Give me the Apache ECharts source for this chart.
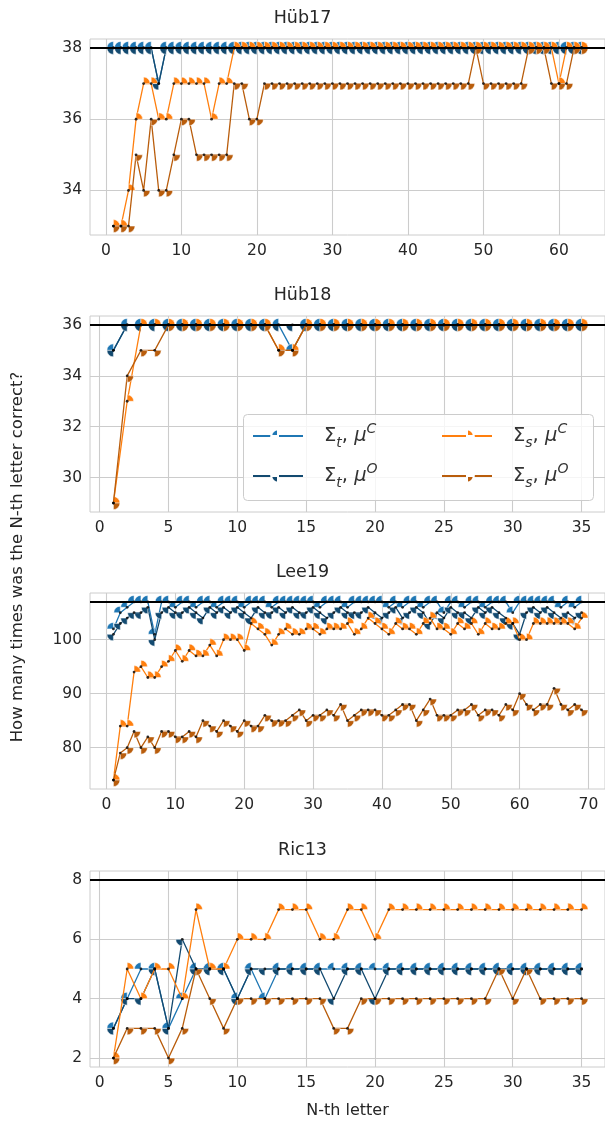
<!DOCTYPE html>
<html><head><meta charset="utf-8">
<script src="https://cdn.jsdelivr.net/npm/echarts@6/dist/echarts.min.js"></script>
<style>html,body{margin:0;padding:0;background:#fff}#c{width:605px;height:1125px}</style>
</head><body><div id="c"></div><script>
// ---------------- data ----------------
const hub17_tC = [38,38,38,38,38,38,37,38,38,38, 38,38,38,38,38,38,38,38,38,38, 38,38,38,38,38,38,38,38,38,38, 38,38,38,38,38,38,38,38,38,38, 38,38,38,38,38,38,38,38,38,38, 38,38,38,38,38,38,38,38,38,38, 38,38,38];
const hub17_tO = [38,38,38,38,38,38,37,38,38,38, 38,38,38,38,38,38,38,38,38,38, 38,38,38,38,38,38,38,38,38,38, 38,38,38,38,38,38,38,38,38,38, 38,38,38,38,38,38,38,38,38,38, 38,38,38,38,38,38,38,38,38,38, 38,38,38];
const hub17_sC = [33,33,34,36,37,37,36,36,37,37, 37,37,37,36,37,37,38,38,38,38, 38,38,38,38,38,38,38,38,38,38, 38,38,38,38,38,38,38,38,38,38, 38,38,38,38,38,38,38,38,38,38, 38,38,38,38,38,38,38,38,38,37, 38,38,38];
const hub17_sO = [33,33,33,35,34,36,34,34,35,36, 36,35,35,35,35,35,37,37,36,36, 37,37,37,37,37,37,37,37,37,37, 37,37,37,37,37,37,37,37,37,37, 37,37,37,37,37,37,37,37,38,37, 37,37,37,37,37,38,38,38,37,37, 37,38,38];

const hub18_tC = [35,36,36,36,36,36,36,36,36,36, 36,36,36,35,36,36,36,36,36,36, 36,36,36,36,36,36,36,36,36,36, 36,36,36,36,36];
const hub18_tO = [35,36,36,36,36,36,36,36,36,36, 36,36,36,36,36,36,36,36,36,36, 36,36,36,36,36,36,36,36,36,36, 36,36,36,36,36];
const hub18_sC = [29,33,36,36,36,36,36,36,36,36, 36,36,35,35,36,36,36,36,36,36, 36,36,36,36,36,36,36,36,36,36, 36,36,36,36,36];
const hub18_sO = [29,34,35,35,36,36,36,36,36,36, 36,36,35,35,36,36,36,36,36,36, 36,36,36,36,36,36,36,36,36,36, 36,36,36,36,36];

const lee19_tC = [102,105,106,107,107,107,101,107,107,106, 107,107,106,107,107,106,107,107,107,106, 107,107,107,106,107,107,107,107,107,107, 106,107,107,107,106,107,107,107,107,107, 106,107,106,107,107,106,107,107,105,107, 107,106,107,107,106,107,107,107,105,107, 107,107,107,107,107,106,107,106,107];
const lee19_tO = [101,103,104,105,105,106,100,105,106,105, 105,106,105,104,106,105,106,105,106,105, 104,106,105,105,106,105,106,105,105,106, 105,104,105,106,105,105,105,106,105,104, 105,106,104,105,106,105,103,105,104,106, 105,105,104,106,105,106,105,104,103,101, 105,106,105,106,105,104,105,104,105];
const lee19_sC = [74,84,84,94,95,93,93,95,96,98, 96,98,97,97,99,97,100,100,100,98, 103,102,101,99,101,102,101,101,102,102, 101,102,102,102,103,101,102,104,103,102, 101,103,102,102,101,103,104,102,102,101, 103,102,103,101,103,102,102,103,103,100, 100,103,103,103,103,103,103,102,104];
const lee19_sO = [74,79,80,83,80,82,80,83,83,82, 82,83,82,85,84,83,85,84,83,85, 84,84,86,85,85,85,86,87,85,86, 86,87,86,88,85,86,87,87,87,86, 86,87,88,88,85,87,89,86,86,86, 87,87,88,86,87,87,86,88,87,90, 88,87,88,88,91,88,87,88,87];

const ric13_tC = [3,4,5,5,3,4,5,5,5,4, 5,4,5,5,5,5,5,5,5,5, 5,5,5,5,5,5,5,5,5,5, 5,5,5,5,5];
const ric13_tO = [3,4,4,5,3,6,5,5,5,4, 5,5,5,5,5,5,4,5,5,4, 5,5,5,5,5,5,5,5,5,5, 5,5,5,5,5];
const ric13_sC = [2,5,4,5,5,4,7,5,5,6, 6,6,7,7,7,6,6,7,7,6, 7,7,7,7,7,7,7,7,7,7, 7,7,7,7,7];
const ric13_sO = [2,3,3,3,2,3,5,4,3,4, 4,4,4,4,4,4,3,3,4,4, 4,4,4,4,4,4,4,4,5,4, 5,4,4,4,4];

const titles = ['Hüb17', 'Hüb18', 'Lee19', 'Ric13'];
const refValues = [38, 36, 107, 8];
const hub17_xticks = [0,10,20,30,40,50,60];
const hub18_xticks = [0,5,10,15,20,25,30,35];
const lee19_xticks = [0,10,20,30,40,50,60,70];
const ric13_xticks = [0,5,10,15,20,25,30,35];
const hub17_yticks = [34,36,38];
const hub18_yticks = [30,32,34,36];
const lee19_yticks = [80,90,100];
const ric13_yticks = [2,4,6,8];
const seriesKeys = ['tC','tO','sC','sO'];

// ---------------- layout / style ----------------
const FONT = 'DejaVu Sans';
const TXT = '#262626';
const GRIDC = '#cccccc';
const COLORS = {tC:'#1f77b4', tO:'#134a70', sC:'#ff7f0e', sO:'#b95d0c'};
const SYM = {
  tC:'path://M0,0M20,20M10,10L0,10A10,10,0,0,1,10,0Z',
  tO:'path://M0,0M20,20M10,10L10,20A10,10,0,0,1,0,10Z',
  sC:'path://M0,0M20,20M10,10L10,0A10,10,0,0,1,20,10Z',
  sO:'path://M0,0M20,20M10,10L20,10A10,10,0,0,1,10,20Z'
};
const panelData = [
  [hub17_tC, hub17_tO, hub17_sC, hub17_sO],
  [hub18_tC, hub18_tO, hub18_sC, hub18_sO],
  [lee19_tC, lee19_tO, lee19_sC, lee19_sO],
  [ric13_tC, ric13_tO, ric13_sC, ric13_sO]
];
const xticks = [hub17_xticks, hub18_xticks, lee19_xticks, ric13_xticks];
const yticks = [hub17_yticks, hub18_yticks, lee19_yticks, ric13_yticks];
const tops = [39, 316, 593, 871];
const H = 196, LEFT = 90, W = 515;
const xLim = [[-2.1,66.1],[-0.7,36.7],[-2.4,72.4],[-0.7,36.7]];
const yLim = [[32.75,38.25],[28.65,36.35],[72.35,108.65],[1.7,8.3]];

const grids = [], xAxes = [], yAxes = [], series = [], titleOpts = [];
for (let p = 0; p < 4; p++) {
  grids.push({left: LEFT, top: tops[p], width: W, height: H, show: true,
    borderColor: GRIDC, borderWidth: 1, backgroundColor: 'transparent', containLabel: false});
  xAxes.push({type:'value', gridIndex:p, min:xLim[p][0], max:xLim[p][1],
    axisLine:{show:false}, axisTick:{show:false, customValues: xticks[p]},
    axisLabel:{customValues: xticks[p], color:TXT, fontSize:15.5, fontFamily:FONT, margin:8},
    splitLine:{show:true, lineStyle:{color:GRIDC, width:1.1}}});
  yAxes.push({type:'value', gridIndex:p, min:yLim[p][0], max:yLim[p][1],
    axisLine:{show:false}, axisTick:{show:false, customValues: yticks[p]},
    axisLabel:{customValues: yticks[p], color:TXT, fontSize:15.5, fontFamily:FONT, margin:8},
    splitLine:{show:true, lineStyle:{color:GRIDC, width:1.1}}});
  titleOpts.push({text: titles[p], left: 302.5, top: tops[p] - 21, padding: 0,
    textAlign:'center', textVerticalAlign:'middle',
    textStyle:{fontFamily:FONT, fontSize:17.5, fontWeight:'normal', color:TXT}});
  // reference line
  series.push({type:'line', name:'ref'+p, xAxisIndex:p, yAxisIndex:p, data:[], z:2, silent:true,
    markLine:{silent:true, symbol:['none','none'], label:{show:false},
      lineStyle:{color:'#000', width:2, type:'solid'}, data:[{yAxis: refValues[p]}], animation:false}});
  const dots = [];
  seriesKeys.forEach((k, i) => {
    const arr = panelData[p][i];
    const pts = arr.map((v, j) => [j + 1, v]);
    pts.forEach(pt => dots.push(pt));
    series.push({type:'line', name:k, xAxisIndex:p, yAxisIndex:p, data:pts,
      symbol: SYM[k], symbolSize: 13, showSymbol:true, showAllSymbol:true, z:3 + i*0.01,
      lineStyle:{color:COLORS[k], width:1.3},
      itemStyle:{color:COLORS[k], borderColor:'#ffffff', borderWidth:0.5},
      emphasis:{disabled:true}, animation:false});
  });
  series.push({type:'scatter', name:'dots'+p, xAxisIndex:p, yAxisIndex:p, data:dots,
    symbol:'circle', symbolSize:2.8, itemStyle:{color:'#000'}, z:4, silent:true, animation:false});
}

const LEG = {
  tC:'{sp| }{r|Σ}{sub|t}{r|, }{i|μ}{sup|C}',
  tO:'{sp| }{r|Σ}{sub|t}{r|, }{i|μ}{sup|O}',
  sC:'{sp| }{r|Σ}{sub|s}{r|, }{i|μ}{sup|C}',
  sO:'{sp| }{r|Σ}{sub|s}{r|, }{i|μ}{sup|O}'
};
const richLeg = {
  sp:{width:16, fontSize:16, lineHeight:28},
  r:{fontFamily:FONT, fontSize:19.5, color:'#333', lineHeight:28, verticalAlign:'middle'},
  i:{fontFamily:FONT, fontStyle:'italic', fontSize:19.5, color:'#333', lineHeight:28},
  sub:{fontFamily:FONT, fontStyle:'italic', fontSize:14, color:'#333', lineHeight:17, verticalAlign:'bottom'},
  sup:{fontFamily:FONT, fontStyle:'italic', fontSize:14, color:'#333', lineHeight:17, verticalAlign:'top'}
};
function legendCol(names, left) {
  return {data:names, orient:'vertical', left:left, top:422, itemWidth:50, itemHeight:17, itemGap:12,
    padding:0, z:10, selectedMode:false, formatter: n => LEG[n],
    textStyle:{rich: richLeg}};
}

const option = {
  animation:false,
  backgroundColor:'#ffffff',
  title: titleOpts,
  grid: grids, xAxis: xAxes, yAxis: yAxes, series: series,
  legend: [legendCol(['tC','tO'], 252), legendCol(['sC','sO'], 441)],
  graphic: [
    {type:'rect', z:9, shape:{x:243.5, y:414.5, width:350, height:86, r:4},
      style:{fill:'rgba(255,255,255,0.8)', stroke:'#cccccc', lineWidth:1}},
    {type:'text', x:18, y:557, rotation:Math.PI/2,
      style:{text:'How many times was the N-th letter correct?', fontFamily:FONT, fontSize:16.5,
        fill:TXT, align:'center', verticalAlign:'middle'}},
    {type:'text', x:LEFT + W/2, y:1111,
      style:{text:'N-th letter', fontFamily:FONT, fontSize:16, fill:TXT, align:'center', verticalAlign:'middle'}}
  ]
};
const chart = echarts.init(document.getElementById('c'), null, {renderer:'canvas'});
chart.setOption(option);
</script></body></html>
